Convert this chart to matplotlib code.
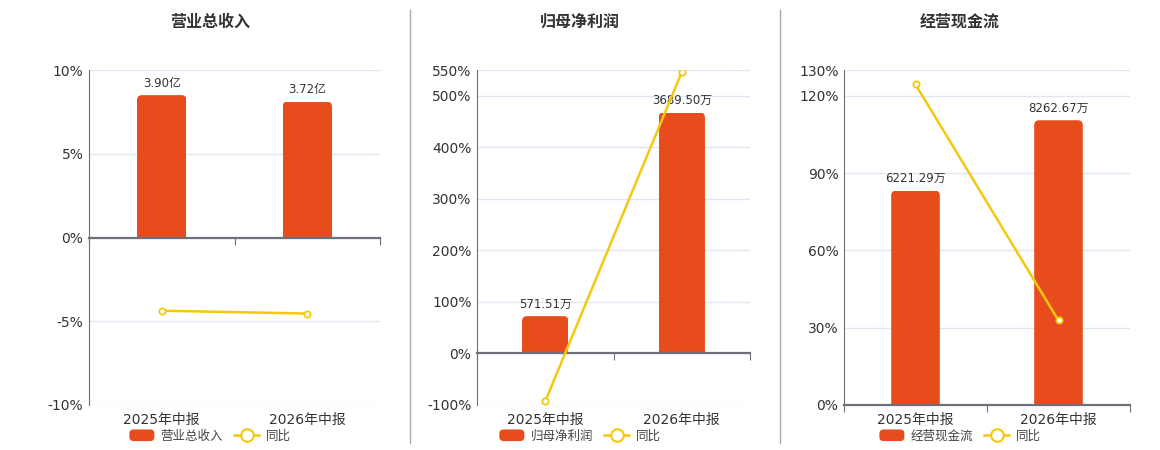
import matplotlib
matplotlib.use("Agg")
import numpy as np
import matplotlib.pyplot as plt
from matplotlib.patches import FancyBboxPatch, Rectangle, Patch
from matplotlib.lines import Line2D
from matplotlib.legend_handler import HandlerPatch
from matplotlib.transforms import blended_transform_factory

plt.rcParams['font.family'] = ['DejaVu Sans', 'Noto Sans CJK SC']

# data
periods = ["2025年中报", "2026年中报"]
titles = ["营业总收入", "归母净利润", "经营现金流"]

revenue = [3.90, 3.72]  # 亿
revenue_labels = ["3.90亿", "3.72亿"]
revenue_yoy = [-4.37, -4.54]

profit = [571.51, 3689.50]  # 万
profit_labels = ["571.51万", "3689.50万"]
profit_yoy = [-92.8, 545.6]

cash = [6221.29, 8262.67]  # 万
cash_labels = ["6221.29万", "8262.67万"]
cash_yoy = [124.4, 32.8]

yticks_1 = [-10, -5, 0, 5, 10]
yticks_2 = [-100, 0, 100, 200, 300, 400, 500, 550]
yticks_3 = [0, 30, 60, 90, 120, 130]

W, H = 1160, 450
BAR = '#E84C1D'
LINE = '#F5C80F'
GRID = '#E0E6F1'
AXIS = '#6E7079'
TEXT = '#333333'

fig = plt.figure(figsize=(W / 100, H / 100), dpi=100)


def px_rect(x0, x1, y0, y1):
    return [x0 / W, 1 - y1 / H, (x1 - x0) / W, (y1 - y0) / H]


def rounded_patch(legend, orig_handle, xdescent, ydescent, width, height, fontsize):
    return FancyBboxPatch((-xdescent, -ydescent), width, height,
                          boxstyle="round,pad=0,rounding_size=3")


def draw_panel(box, title, vals, labels, yoy, yticks, title_x):
    ax = fig.add_axes(px_rect(*box))
    x = np.arange(len(periods))
    ymin, ymax = yticks[0], yticks[-1]
    ax.set_xlim(-0.5, len(periods) - 0.5)
    ax.set_ylim(ymin, ymax)
    ax.set_yticks(yticks)
    ax.set_yticklabels([f"{t}%" for t in yticks])
    ax.tick_params(axis='y', length=0, pad=4, labelsize=10, labelcolor=TEXT)
    ax.tick_params(axis='x', length=0, labelbottom=False)
    ax.grid(axis='y', color=GRID, lw=1)
    for s in ['top', 'right', 'bottom']:
        ax.spines[s].set_visible(False)
    ax.spines['left'].set_color(AXIS)

    # bars on their own scale, zero aligned with the percent axis
    axb = ax.twinx()
    top = max(vals) / 0.85
    bot = top * ymin / ymax
    axb.set_ylim(bot, top)
    axb.set_yticks([])
    for s in axb.spines.values():
        s.set_visible(False)
    bars = axb.bar(x, vals, width=0.34, color=BAR)
    wpx = (box[1] - box[0])
    hpx = (box[3] - box[2])
    xupp = len(periods) / wpx
    yupp = (top - bot) / hpx
    r = 5 * xupp
    asp = yupp / xupp
    for b in bars:
        b.set_visible(False)
        x0, w, h = b.get_x(), b.get_width(), b.get_height()
        p = FancyBboxPatch((x0, -r * asp), w, h + r * asp,
                           boxstyle=f"round,pad=0,rounding_size={r}",
                           mutation_aspect=asp, fc=BAR, ec='none')
        axb.add_patch(p)
        p.set_clip_path(Rectangle((x0, 0), w, h, transform=axb.transData))
    for xi, v, lab in zip(x, vals, labels):
        axb.annotate(lab, (xi, v), xytext=(0, 4), textcoords='offset points',
                     ha='center', va='bottom', fontsize=8.5, color=TEXT)

    # yoy line
    axl = ax.twinx()
    axl.set_ylim(ymin, ymax)
    axl.set_yticks([])
    axl.xaxis.set_visible(True)
    for s in ['top', 'right', 'left']:
        axl.spines[s].set_visible(False)
    axl.spines['bottom'].set_position(('data', 0))
    axl.spines['bottom'].set_color(AXIS)
    axl.spines['bottom'].set_linewidth(1.6)
    axl.set_xticks(np.arange(len(periods) + 1) - 0.5)
    axl.tick_params(axis='x', length=5, color=AXIS, labelbottom=False)
    axl.plot(x, yoy, color=LINE, lw=1.8, marker='o', ms=4.5,
             mfc='white', mec=LINE, mew=1.3, zorder=5)

    tr = blended_transform_factory(ax.transData, ax.transAxes)
    for xi, p in zip(x, periods):
        ax.text(xi, -15 / hpx, p, transform=tr, ha='center', va='center',
                fontsize=10, color=TEXT)

    fig.text(title_x / W, 1 - 22 / H, title, ha='center', va='center',
             fontsize=11.5, fontweight='bold', color=TEXT)
    handles = [Patch(facecolor=BAR, label=title),
               Line2D([], [], color=LINE, lw=1.8, marker='o', ms=9,
                      mfc='white', mec=LINE, mew=1.5, label='同比')]
    fig.legend(handles=handles, loc='center',
               bbox_to_anchor=(title_x / W, 1 - 436 / H), ncol=2,
               frameon=False, fontsize=9, handlelength=2.0,
               handleheight=1.05, columnspacing=0.9, handletextpad=0.5,
               labelcolor='#444444',
               handler_map={Patch: HandlerPatch(patch_func=rounded_patch)})


draw_panel((89, 380, 70, 405), titles[0], revenue, revenue_labels,
           revenue_yoy, yticks_1, 210)
draw_panel((477, 750, 70, 405), titles[1], profit, profit_labels,
           profit_yoy, yticks_2, 580)
draw_panel((844, 1130, 70, 405), titles[2], cash, cash_labels,
           cash_yoy, yticks_3, 960)

for sx in (410, 780):
    fig.add_artist(Line2D([sx / W] * 2, [1 - 10 / H, 1 - 443 / H],
                          color='#AAAAAA', lw=1))

fig.savefig('out.png', dpi=100)
